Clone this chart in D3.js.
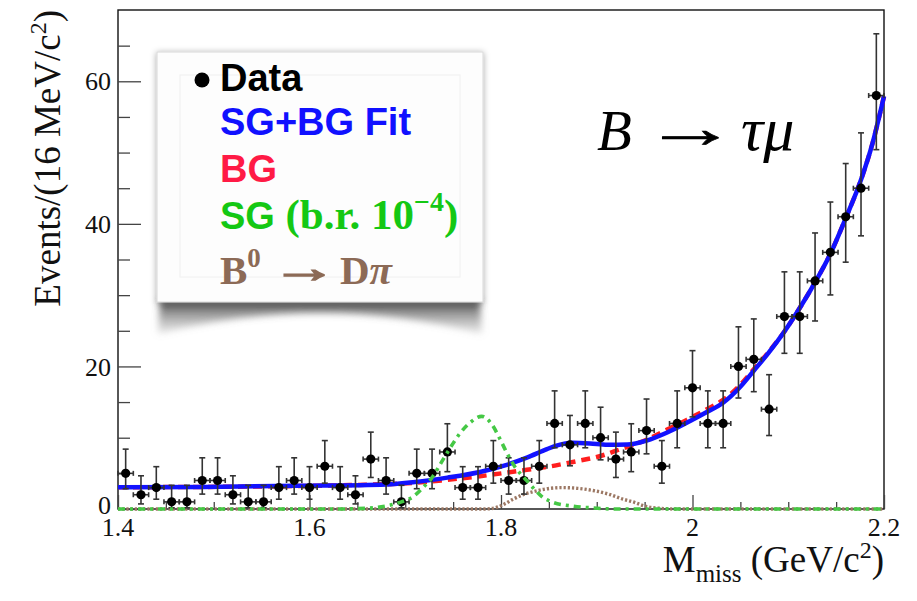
<!DOCTYPE html>
<html>
<head>
<meta charset="utf-8">
<script src="https://cdn.jsdelivr.net/npm/d3@7"></script>
<style>
  html, body { margin: 0; padding: 0; background: #fff; }
  svg { display: block; }
</style>
</head>
<body>
<svg id="chart" width="917" height="601"></svg>
<script>
// ---- data -------------------------------------------------------------
// Missing-mass histogram, 16 MeV/c^2 bins from 1.4 to 2.2 GeV/c^2
const massRange = [1.4, 2.2];
const binWidth = 0.016;
const events = [5, 2, 3, 1, 1, 4, 4, 2, 1, 1, 3, 4, 3, 6, 3, 2, 7, 4, 1, 5,
                5, 8, 3, 3, 6, 4, 4, 6, 12, 9, 12, 10, 7, 8, 11, 6, 12, 17, 12, 12,
                20, 21, 14, 27, 27, 32, 36, 41, 45, 58];

// Fit components sampled along M_miss: [mass, events]
const fitTotal = [[1.400, 3.05], [1.490, 3.10], [1.590, 3.25], [1.680, 3.45], [1.708, 3.75],
  [1.744, 4.40], [1.778, 5.20], [1.806, 6.20], [1.827, 7.20], [1.848, 8.40], [1.858, 8.90],
  [1.875, 9.30], [1.893, 9.20], [1.911, 9.00], [1.932, 9.05], [1.952, 9.60], [1.973, 10.7],
  [1.994, 12.1], [2.015, 13.6], [2.032, 14.9], [2.049, 17.0], [2.064, 19.4], [2.080, 22.0],
  [2.096, 24.9], [2.112, 28.2], [2.128, 31.8], [2.144, 35.8], [2.160, 40.8], [2.176, 46.2],
  [2.188, 51.3], [2.200, 57.9]];

const fitBackground = [[1.400, 3.05], [1.538, 3.15], [1.642, 3.35], [1.708, 3.65], [1.744, 4.10],
  [1.778, 4.60], [1.806, 5.10], [1.827, 5.50], [1.848, 5.90], [1.875, 6.60], [1.903, 7.40],
  [1.927, 8.50], [1.952, 9.70], [1.973, 11.1], [1.994, 12.5], [2.015, 14.0], [2.032, 15.3],
  [2.049, 17.3], [2.064, 19.6], [2.080, 22.1], [2.096, 24.9], [2.112, 28.2], [2.128, 31.8],
  [2.144, 35.8], [2.160, 40.8], [2.176, 46.2], [2.188, 51.3], [2.200, 57.9]];

const signalShape = [[1.400, 0], [1.630, 0], [1.660, 0.1], [1.675, 0.3], [1.696, 1.0],
  [1.708, 1.7], [1.7185, 3.0], [1.729, 4.6], [1.738, 6.6], [1.7485, 8.9], [1.757, 10.6],
  [1.7676, 12.1], [1.7798, 13.0], [1.7903, 11.9], [1.799, 9.8], [1.806, 7.9], [1.8146, 5.9],
  [1.8268, 4.0], [1.8355, 2.7], [1.844, 1.6], [1.853, 1.0], [1.875, 0.4], [1.896, 0.15],
  [1.920, 0], [2.200, 0]];

const peakingDpi = [[1.400, 0], [1.780, 0], [1.789, 0.05], [1.797, 0.3], [1.805, 0.8],
  [1.813, 1.4], [1.823, 2.0], [1.833, 2.4], [1.846, 2.8], [1.863, 3.0], [1.880, 2.9],
  [1.896, 2.6], [1.912, 2.1], [1.927, 1.4], [1.940, 0.9], [1.950, 0.4], [1.966, 0.1],
  [1.982, 0], [2.200, 0]];

const xMajorTicks = [1.4, 1.6, 1.8, 2.0, 2.2];
const xTickLabels = ["1.4", "1.6", "1.8", "2", "2.2"];
const yMajorTicks = [0, 20, 40, 60];
const yTickLabels = ["0", "20", "40", "60"];

// ---- layout -------------------------------------------------------------
const frame = { left: 118, right: 884, top: 10, bottom: 509 };
const serif = "'Liberation Serif', 'Times New Roman', serif";
const sans = "'Liberation Sans', Arial, sans-serif";

const svg = d3.select("#chart");
const x = d3.scaleLinear().domain(massRange).range([frame.left, frame.right]);
const y = d3.scaleLinear().domain([0, 70]).range([frame.bottom, frame.top]);

const defs = svg.append("defs");
const dropShadow = defs.append("filter").attr("id", "boxShadow")
  .attr("x", "-10%").attr("y", "-10%").attr("width", "120%").attr("height", "120%");
dropShadow.append("feDropShadow").attr("dx", 0).attr("dy", 1).attr("stdDeviation", 3)
  .attr("flood-color", "#000").attr("flood-opacity", 0.35);
const curlBlur = defs.append("filter").attr("id", "curlBlur")
  .attr("x", "-10%").attr("y", "-50%").attr("width", "120%").attr("height", "200%");
curlBlur.append("feGaussianBlur").attr("stdDeviation", 3.5);
const curlGrad = defs.append("linearGradient").attr("id", "curlGrad")
  .attr("x1", 0).attr("y1", 0).attr("x2", 0).attr("y2", 1);
curlGrad.append("stop").attr("offset", "0%").attr("stop-color", "#3a3a3a").attr("stop-opacity", 0.95);
curlGrad.append("stop").attr("offset", "100%").attr("stop-color", "#9a9a9a").attr("stop-opacity", 0.2);

// ---- frame and axes -------------------------------------------------------
svg.append("rect")
  .attr("x", frame.left).attr("y", frame.top)
  .attr("width", frame.right - frame.left).attr("height", frame.bottom - frame.top)
  .attr("fill", "none").attr("stroke", "#111").attr("stroke-width", 1.4);

// y axis: ticks pointing into the frame
const yAxis = d3.axisRight(y).tickValues(yMajorTicks).tickSize(23).tickFormat("");
const yMinor = d3.axisRight(y).tickValues(d3.range(5, 70, 5).filter(v => v % 20 !== 0))
  .tickSize(12).tickFormat("");
[yAxis, yMinor].forEach(ax => {
  const g = svg.append("g").attr("transform", `translate(${frame.left},0)`).call(ax);
  g.select(".domain").remove();
  g.selectAll("line").attr("stroke", "#444").attr("stroke-width", 1.3);
});
svg.append("g").selectAll("text").data(yMajorTicks).join("text")
  .attr("x", 111).attr("y", d => y(d) - (d === 0 ? 4 : 0)).attr("dy", "0.35em")
  .attr("text-anchor", "end").attr("font-family", serif).attr("font-size", 26)
  .attr("fill", "#111").text((d, i) => yTickLabels[i]);

// x axis: ticks pointing up into the frame
const xAxis = d3.axisTop(x).tickValues(xMajorTicks).tickSize(14).tickFormat("");
const xMinor = d3.axisTop(x).tickValues(d3.range(1.45, 2.2, 0.05)
  .filter(v => Math.abs(v * 5 - Math.round(v * 5)) > 1e-6)).tickSize(7).tickFormat("");
[xAxis, xMinor].forEach(ax => {
  const g = svg.append("g").attr("transform", `translate(0,${frame.bottom})`).call(ax);
  g.select(".domain").remove();
  g.selectAll("line").attr("stroke", "#444").attr("stroke-width", 1.3);
});
svg.append("g").selectAll("text").data(xMajorTicks).join("text")
  .attr("x", d => x(d)).attr("y", 536)
  .attr("text-anchor", "middle").attr("font-family", serif).attr("font-size", 26)
  .attr("fill", "#111").text((d, i) => xTickLabels[i]);

// axis titles
const yTitle = svg.append("text")
  .attr("transform", `translate(60,${frame.top}) rotate(-90)`)
  .attr("text-anchor", "end").attr("font-family", serif).attr("font-size", 37).attr("fill", "#111");
yTitle.append("tspan").text("Events/(16 MeV/c");
yTitle.append("tspan").attr("font-size", 24).attr("dy", -14).text("2");
yTitle.append("tspan").attr("dy", 14).text(")");

const xTitle = svg.append("text")
  .attr("x", frame.right).attr("y", 572)
  .attr("text-anchor", "end").attr("font-family", serif).attr("font-size", 37).attr("fill", "#111");
xTitle.append("tspan").text("M");
xTitle.append("tspan").attr("font-size", 25).attr("dy", 10).text("miss");
xTitle.append("tspan").attr("dy", -10).text(" (GeV/c");
xTitle.append("tspan").attr("font-size", 24).attr("dy", -14).text("2");
xTitle.append("tspan").attr("dy", 14).text(")");

// ---- fit curves -------------------------------------------------------------
const line = d3.line().x(d => x(d[0])).y(d => y(d[1])).curve(d3.curveMonotoneX);
const plot = svg.append("g");

plot.append("path").datum(fitBackground).attr("d", line)
  .attr("fill", "none").attr("stroke", "#ff1e1e").attr("stroke-width", 4.5)
  .attr("stroke-dasharray", "9,6");
plot.append("path").datum(peakingDpi).attr("d", line)
  .attr("fill", "none").attr("stroke", "#9c7864").attr("stroke-width", 3.4)
  .attr("stroke-dasharray", "2.2,2");
plot.append("path").datum(fitTotal).attr("d", line)
  .attr("fill", "none").attr("stroke", "#1212ff").attr("stroke-width", 4.5);

// ---- data points with Poisson (Gehrels) error bars -------------------------
const points = events.map((n, i) => {
  const c = massRange[0] + binWidth * (i + 0.5);
  const up = n + Math.sqrt(n + 0.75) + 1;
  const lo = n * Math.pow(1 - 1 / (9 * n) - 1 / (3 * Math.sqrt(n)), 3);
  return { c, n, up, lo };
});
const pg = plot.append("g").attr("stroke", "#333").attr("stroke-width", 1.6);
const pt = pg.selectAll("g").data(points).join("g");
pt.append("line").attr("x1", d => x(d.c)).attr("x2", d => x(d.c))
  .attr("y1", d => y(d.lo)).attr("y2", d => y(d.up));
pt.append("line").attr("x1", d => x(d.c) - 3).attr("x2", d => x(d.c) + 3)
  .attr("y1", d => y(d.up)).attr("y2", d => y(d.up));
pt.append("line").attr("x1", d => x(d.c) - 3).attr("x2", d => x(d.c) + 3)
  .attr("y1", d => y(d.lo)).attr("y2", d => y(d.lo));
pt.append("line").attr("x1", d => x(d.c - binWidth / 2)).attr("x2", d => x(d.c + binWidth / 2))
  .attr("y1", d => y(d.n)).attr("y2", d => y(d.n));
pt.append("line").attr("x1", d => x(d.c - binWidth / 2)).attr("x2", d => x(d.c - binWidth / 2))
  .attr("y1", d => y(d.n) - 2.5).attr("y2", d => y(d.n) + 2.5);
pt.append("line").attr("x1", d => x(d.c + binWidth / 2)).attr("x2", d => x(d.c + binWidth / 2))
  .attr("y1", d => y(d.n) - 2.5).attr("y2", d => y(d.n) + 2.5);
pt.append("circle").attr("cx", d => x(d.c)).attr("cy", d => y(d.n)).attr("r", 4.6)
  .attr("fill", "#000").attr("stroke", "none");

plot.append("path").datum(signalShape).attr("d", line)
  .attr("fill", "none").attr("stroke", "#45c845").attr("stroke-width", 3.6)
  .attr("stroke-dasharray", "7,5,3,5");

// ---- decay label: B → τμ -------------------------------------------------------
const decay = svg.append("g").attr("font-family", serif).attr("fill", "#000");
decay.append("text").attr("x", 597).attr("y", 150).attr("font-size", 57)
  .attr("font-style", "italic").text("B");
decay.append("text").attr("transform", "translate(643,147) scale(1.65,1)")
  .attr("font-size", 57).attr("stroke", "#000").attr("stroke-width", 0.7).text("\u2192");
decay.append("text").attr("x", 741).attr("y", 150).attr("font-size", 62)
  .attr("font-style", "italic").text("\u03C4\u03BC");

// ---- legend -------------------------------------------------------------------
const lg = svg.append("g");
lg.append("path")
  .attr("d", "M160,300 L480,300 L482,334 Q320,292 158,334 Z")
  .attr("fill", "url(#curlGrad)").attr("filter", "url(#curlBlur)");
lg.append("rect").attr("x", 157).attr("y", 52).attr("width", 326).attr("height", 250)
  .attr("fill", "#fdfdfd").attr("stroke", "#d8d8d8").attr("stroke-width", 1)
  .attr("filter", "url(#boxShadow)");
lg.append("rect").attr("x", 180).attr("y", 75).attr("width", 280).attr("height", 202)
  .attr("fill", "none").attr("stroke", "#f0f0f0").attr("stroke-width", 1);

lg.append("circle").attr("cx", 202).attr("cy", 80).attr("r", 7.5).attr("fill", "#000");
lg.append("text").attr("x", 220).attr("y", 91).attr("font-family", sans).attr("font-weight", "bold")
  .attr("font-size", 38).attr("fill", "#000").text("Data");
lg.append("text").attr("x", 220).attr("y", 135).attr("font-family", sans).attr("font-weight", "bold")
  .attr("font-size", 38).attr("fill", "#1010ff").text("SG+BG Fit");
lg.append("text").attr("x", 220).attr("y", 182).attr("font-family", sans).attr("font-weight", "bold")
  .attr("font-size", 38).attr("fill", "#ff1a45").text("BG");

const sgText = lg.append("text").attr("x", 220).attr("y", 229).attr("font-weight", "bold")
  .attr("fill", "#14c814").attr("font-size", 38);
sgText.append("tspan").attr("font-family", sans).text("SG ");
sgText.append("tspan").attr("font-family", serif).attr("font-size", 43).text("(b.r. 10");
sgText.append("tspan").attr("font-family", serif).attr("font-size", 28).attr("dy", -18).text("\u22124");
sgText.append("tspan").attr("font-family", serif).attr("font-size", 43).attr("dy", 18).text(")");

const brown = "#8c6a56";
const dpi = lg.append("g").attr("font-family", serif).attr("font-weight", "bold").attr("fill", brown);
const bText = dpi.append("text").attr("x", 220).attr("y", 284).attr("font-size", 41);
bText.append("tspan").text("B");
bText.append("tspan").attr("font-size", 27).attr("dy", -17).text("0");
dpi.append("text").attr("transform", "translate(271,282) scale(1.6,1)")
  .attr("font-size", 41).attr("stroke", brown).attr("stroke-width", 1.6).text("\u2192");
const dText = dpi.append("text").attr("x", 340).attr("y", 284).attr("font-size", 41);
dText.append("tspan").text("D");
dText.append("tspan").attr("font-style", "italic").text("\u03C0");
</script>
</body>
</html>
